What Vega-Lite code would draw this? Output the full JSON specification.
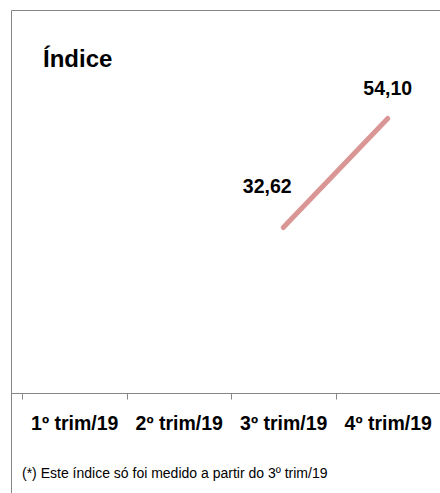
{
  "$schema": "https://vega.github.io/schema/vega-lite/v6.json",
  "autosize": {"type": "none"},
  "padding": {"left": 11, "top": 10, "right": 0, "bottom": 0},
  "width": 430,
  "height": 484,
  "background": "white",
  "title": {
    "text": "Índice",
    "anchor": "start",
    "orient": "top",
    "dx": 32,
    "offset": -81,
    "baseline": "alphabetic",
    "font": "Liberation Sans",
    "fontSize": 24,
    "fontWeight": "bold",
    "color": "#000000"
  },
  "config": {
    "font": "Liberation Sans",
    "view": {"stroke": "#868686", "strokeWidth": 1},
    "locale": {"number": {"decimal": ",", "thousands": ".", "grouping": [3], "currency": ["R$", ""]}}
  },
  "data": {
    "values": [
      {"trimestre": "3º trim/19", "indice": 32.62},
      {"trimestre": "4º trim/19", "indice": 54.10}
    ]
  },
  "encoding": {
    "x": {
      "field": "trimestre",
      "type": "nominal",
      "sort": null,
      "scale": {
        "domain": ["1º trim/19", "2º trim/19", "3º trim/19", "4º trim/19"],
        "paddingInner": 0,
        "paddingOuter": 0.057416,
        "align": 0.91667
      },
      "axis": {
        "title": "(*) Este índice só foi medido a partir do 3º trim/19",
        "offset": -101,
        "tickBand": "extent",
        "labelAngle": 0,
        "labelFont": "Liberation Sans",
        "labelFontSize": 19.5,
        "labelFontWeight": "bold",
        "labelColor": "#000000",
        "labelBaseline": "alphabetic",
        "labelPadding": 30,
        "tickSize": 6,
        "tickColor": "#868686",
        "domainColor": "#868686",
        "grid": false,
        "titleFont": "Liberation Sans",
        "titleFontSize": 14,
        "titleFontWeight": "normal",
        "titleColor": "#000000",
        "titleAlign": "left",
        "titleBaseline": "alphabetic",
        "titleX": 10.5,
        "titleY": 84
      }
    },
    "y": {
      "field": "indice",
      "type": "quantitative",
      "scale": {"domain": [-19.9, 75.48], "nice": false, "zero": false},
      "axis": null
    }
  },
  "layer": [
    {
      "mark": {"type": "line", "color": "#d99694", "strokeWidth": 5, "strokeCap": "round"}
    },
    {
      "transform": [{"filter": "datum.trimestre === '3º trim/19'"}],
      "mark": {"type": "text", "dx": -16, "dy": -34.5, "baseline": "alphabetic", "fontSize": 19.5, "fontWeight": "bold", "color": "#000000"},
      "encoding": {"text": {"field": "indice", "type": "quantitative", "format": ".2f"}}
    },
    {
      "transform": [{"filter": "datum.trimestre === '4º trim/19'"}],
      "mark": {"type": "text", "dx": 0, "dy": -23.5, "baseline": "alphabetic", "fontSize": 19.5, "fontWeight": "bold", "color": "#000000"},
      "encoding": {"text": {"field": "indice", "type": "quantitative", "format": ".2f"}}
    }
  ]
}
